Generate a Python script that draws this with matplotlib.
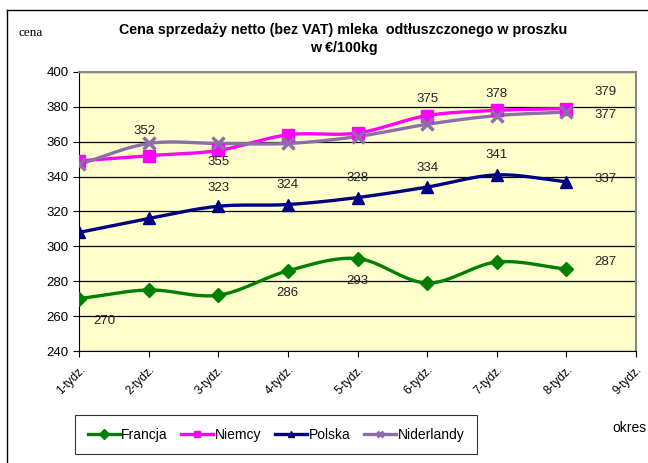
import matplotlib.pyplot as plt
import numpy as np
from matplotlib.lines import Line2D

plt.rcParams['font.family'] = ['Liberation Sans', 'DejaVu Sans']

weeks = ['1-tydz.', '2-tydz.', '3-tydz.', '4-tydz.', '5-tydz.', '6-tydz.', '7-tydz.', '8-tydz.', '9-tydz.']
francja = [270, 275, 272, 286, 293, 279, 291, 287]
niemcy = [349, 352, 355, 364, 365, 375, 378, 379]
polska = [308, 316, 323, 324, 328, 334, 341, 337]
niderlandy = [347, 359, 359, 359, 363, 370, 375, 377]

# which points carry a value label, and where (offset in points)
francja_lbl = {0: (18, -16), 3: (0, -16), 4: (0, -16), 7: (28, 5)}
niemcy_lbl = {1: (-3, 18), 2: (0, -8), 5: (0, 12), 6: (0, 12), 7: (28, 12)}
polska_lbl = {2: (0, 13), 3: (0, 14), 4: (0, 14), 5: (0, 14), 6: (0, 14), 7: (28, 2)}
niderlandy_lbl = {7: (28, -2)}


def smooth(y, n=20):
    # Catmull-Rom through the data points (Excel "smoothed line" look)
    x = np.arange(len(y), dtype=float)
    y = np.asarray(y, dtype=float)
    px = np.concatenate([[2 * x[0] - x[1]], x, [2 * x[-1] - x[-2]]])
    py = np.concatenate([[2 * y[0] - y[1]], y, [2 * y[-1] - y[-2]]])
    xs, ys = [], []
    t = np.linspace(0, 1, n, endpoint=False)
    for i in range(1, len(px) - 2):
        for arr, out in ((px, xs), (py, ys)):
            p0, p1, p2, p3 = arr[i - 1], arr[i], arr[i + 1], arr[i + 2]
            out.extend(0.5 * (2 * p1 + (-p0 + p2) * t + (2 * p0 - 5 * p1 + 4 * p2 - p3) * t ** 2
                              + (-p0 + 3 * p1 - 3 * p2 + p3) * t ** 3))
    xs.append(x[-1])
    ys.append(y[-1])
    return np.array(xs), np.array(ys)


fig = plt.figure(figsize=(6.48, 4.63), dpi=100)
ax = fig.add_axes([0.1219, 0.2419, 0.8596, 0.6026])
ax.set_facecolor('#FFFFCC')

series = [
    ('Francja', francja, '#008000', 'D', 7, francja_lbl),
    ('Niemcy', niemcy, '#FF00FF', 's', 8, niemcy_lbl),
    ('Polska', polska, '#000080', '^', 8, polska_lbl),
    ('Niderlandy', niderlandy, '#8C6FAA', 'x', 9, niderlandy_lbl),
]

handles = []
for name, vals, col, mk, ms, lbl in series:
    sx, sy = smooth(vals)
    ax.plot(sx, sy, color=col, lw=2.4, zorder=3)
    ax.plot(range(len(vals)), vals, ls='none', marker=mk, ms=ms, color=col,
            mew=2.5 if mk == 'x' else 1, zorder=4)
    for i, off in lbl.items():
        ax.annotate(str(vals[i]), (i, vals[i]), xytext=off, textcoords='offset points',
                    ha='center', va='center', fontsize=9.5, color='#222222', zorder=5)
    handles.append(Line2D([], [], color=col, lw=2.4, marker=mk, ms=5,
                          mew=2 if mk == 'x' else 1, label=name))

ax.set_xlim(0, 8)
ax.set_ylim(240, 400)
ax.set_yticks(range(240, 401, 20))
ax.set_xticks(range(9))
ax.set_xticklabels(weeks, rotation=45, ha='right', rotation_mode='anchor', fontsize=8.5)
ax.tick_params(axis='y', labelsize=9.5, length=4, color='black')
ax.tick_params(axis='x', length=4, color='black', pad=5)
ax.grid(axis='y', color='black', lw=0.9)
ax.set_axisbelow(True)
for s in ('top', 'right'):
    ax.spines[s].set_color('#888888')
    ax.spines[s].set_linewidth(1.5)
ax.spines['left'].set_color('black')
ax.spines['bottom'].set_color('black')

fig.text(0.53, 0.935, 'Cena sprzedaży netto (bez VAT) mleka  odtłuszczonego w proszku',
         ha='center', va='center', fontsize=10.3, fontweight='bold')
fig.text(0.53, 0.897, 'w €/100kg', ha='center', va='center', fontsize=10.3, fontweight='bold')
fig.text(0.028, 0.929, 'cena', ha='left', va='center', fontsize=9.5, family='Liberation Serif')
fig.text(0.945, 0.075, 'okres', ha='left', va='center', fontsize=10)

leg = fig.legend(handles=handles, loc='center', bbox_to_anchor=(0.4258, 0.0605), ncol=4,
                 frameon=True, fancybox=False, edgecolor='black', fontsize=10,
                 handlelength=2.3, handletextpad=0.1, columnspacing=1.0,
                 borderpad=0.9, borderaxespad=0)
leg.get_frame().set_linewidth(0.8)

# outer chart border (top and left visible)
fig.add_artist(Line2D([0.011, 1.0], [0.978, 0.978], color='black', lw=1, transform=fig.transFigure))
fig.add_artist(Line2D([0.011, 0.011], [0.0, 0.978], color='black', lw=1, transform=fig.transFigure))

fig.savefig('out.png', dpi=100)
